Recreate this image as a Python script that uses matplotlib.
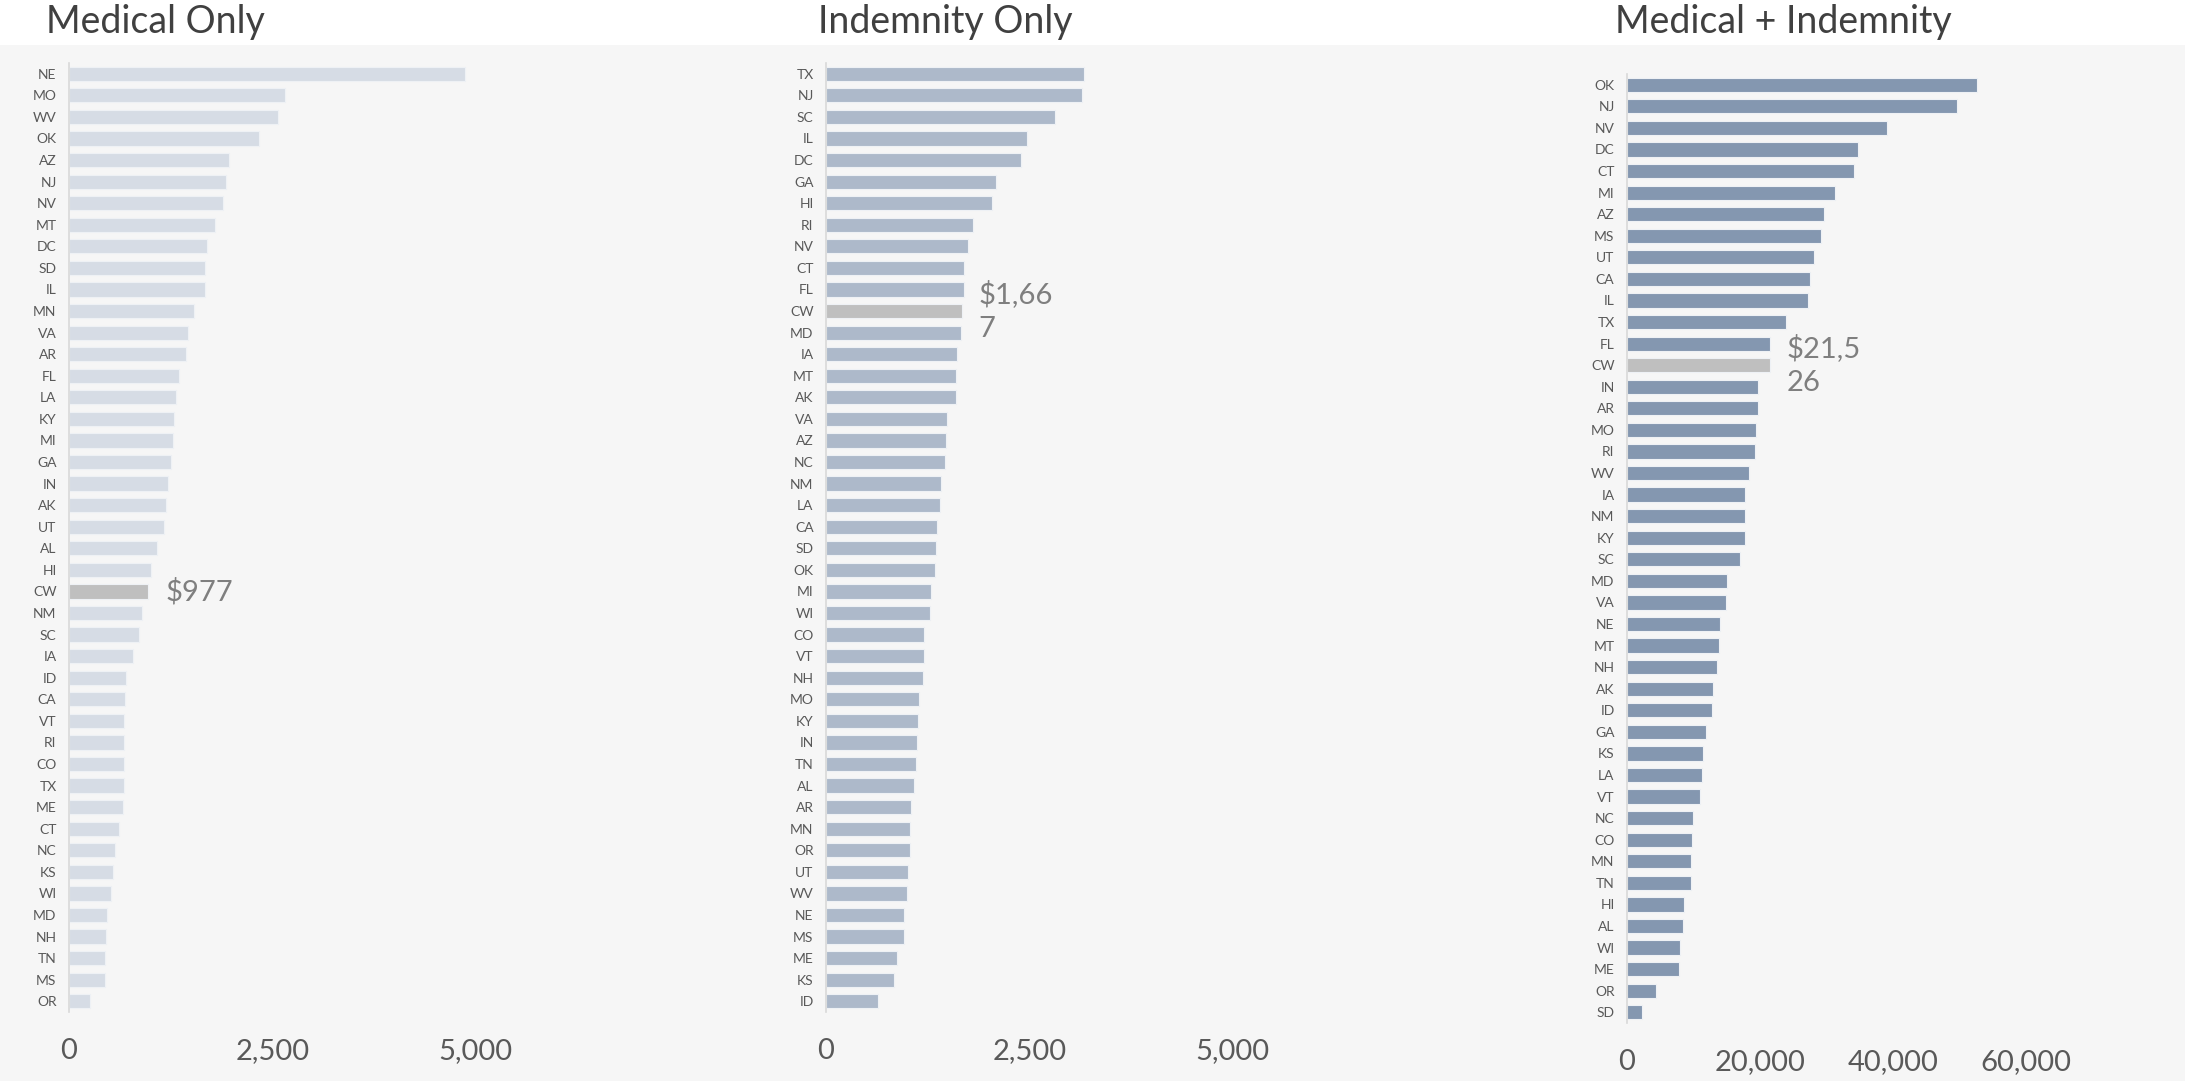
import matplotlib.pyplot as plt
from matplotlib.patches import Rectangle

# Average paid per claim by state, three claim types (CW = countrywide)
med_states = ["NE", "MO", "WV", "OK", "AZ", "NJ", "NV", "MT", "DC", "SD", "IL",
              "MN", "VA", "AR", "FL", "LA", "KY", "MI", "GA", "IN", "AK", "UT",
              "AL", "HI", "CW", "NM", "SC", "IA", "ID", "CA", "VT", "RI", "CO",
              "TX", "ME", "CT", "NC", "KS", "WI", "MD", "NH", "TN", "MS", "OR"]
med_values = [4870, 2651, 2565, 2337, 1965, 1925, 1891, 1793, 1702, 1673, 1673,
              1536, 1467, 1438, 1347, 1313, 1295, 1278, 1250, 1221, 1193, 1170,
              1078, 1009, 977, 901, 855, 786, 695, 683, 678, 678, 678,
              672, 661, 609, 563, 540, 518, 466, 449, 443, 443, 254]

ind_states = ["TX", "NJ", "SC", "IL", "DC", "GA", "HI", "RI", "NV", "CT", "FL",
              "CW", "MD", "IA", "MT", "AK", "VA", "AZ", "NC", "NM", "LA", "CA",
              "SD", "OK", "MI", "WI", "CO", "VT", "NH", "MO", "KY", "IN", "TN",
              "AL", "AR", "MN", "OR", "UT", "WV", "NE", "MS", "ME", "KS", "ID"]
ind_values = [3168, 3151, 2820, 2477, 2403, 2095, 2043, 1803, 1752, 1701, 1701,
              1667, 1655, 1616, 1598, 1598, 1490, 1473, 1461, 1416, 1404, 1370,
              1347, 1336, 1296, 1273, 1204, 1204, 1187, 1147, 1130, 1119, 1102,
              1079, 1050, 1033, 1033, 1010, 999, 959, 953, 868, 839, 645]

both_states = ["OK", "NJ", "NV", "DC", "CT", "MI", "AZ", "MS", "UT", "CA", "IL",
               "TX", "FL", "CW", "IN", "AR", "MO", "RI", "WV", "IA", "NM", "KY",
               "SC", "MD", "VA", "NE", "MT", "NH", "AK", "ID", "GA", "KS", "LA",
               "VT", "NC", "CO", "MN", "TN", "HI", "AL", "WI", "ME", "OR", "SD"]
both_values = [52700, 49600, 39150, 34700, 34200, 31350, 29600, 29100, 28050, 27500, 27250,
               23950, 21560, 21526, 19700, 19650, 19350, 19200, 18400, 17750, 17750, 17700,
               17050, 15100, 14950, 14050, 13900, 13500, 12950, 12800, 11950, 11400, 11350,
               11000, 9950, 9800, 9600, 9600, 8500, 8400, 7900, 7850, 4300, 2230]

W, H = 2185, 1081
fig = plt.figure(figsize=(W / 100, H / 100), dpi=100, facecolor="white")
fig.patches.append(Rectangle((0, 0), 1, 1 - 45 / H, transform=fig.transFigure,
                             facecolor="#f6f6f6", edgecolor="none", zorder=-10))

FONT = ["Lato", "DejaVu Sans"]
TEXT = "#595959"
HIGHLIGHT = "#bfbfbf"

panels = [
    # title, title x, states, values, color, left px, top px, width px, xmax, ticks, label
    ("Medical Only", 155, med_states, med_values, "#d6dce5", 69, 63, 610, 7500,
     [0, 2500, 5000], "$977"),
    ("Indemnity Only", 945, ind_states, ind_values, "#adb9ca", 826, 63, 610, 7500,
     [0, 2500, 5000], "$1,66\n7"),
    ("Medical + Indemnity", 1783, both_states, both_values, "#8497b0", 1627, 74, 532, 80000,
     [0, 20000, 40000, 60000], "$21,5\n26"),
]

for title, tx, states, values, color, left, top, width, xmax, ticks, label in panels:
    n = len(states)
    height = n * 21.57
    ax = fig.add_axes([left / W, 1 - (top + height) / H, width / W, height / H])
    ax.set_facecolor("none")
    y = list(range(n))
    colors = [HIGHLIGHT if s == "CW" else color for s in states]
    ax.barh(y, values, height=0.66, color=colors, edgecolor="#eef1f5", linewidth=0.8, zorder=2)
    ax.set_ylim(n - 0.5, -0.5)
    ax.set_xlim(0, xmax)
    ax.set_yticks(y)
    ax.set_yticklabels(states, fontsize=10, color=TEXT, family=FONT)
    ax.set_xticks(ticks)
    ax.set_xticklabels([f"{t:,}" for t in ticks], fontsize=21, color=TEXT, family=FONT)
    ax.tick_params(axis="y", length=0, pad=9)
    ax.tick_params(axis="x", length=0, pad=19)
    for side in ["top", "right", "bottom"]:
        ax.spines[side].set_visible(False)
    ax.spines["left"].set_color("#d9d9d9")
    ax.spines["left"].set_linewidth(1.2)

    # countrywide value label next to its bar
    cw = states.index("CW")
    ax.annotate(label, xy=(values[cw], cw), xytext=(12, 0), textcoords="offset points",
                fontsize=21, color="#7f7f7f", family=FONT, va="center", ha="left",
                linespacing=1.35)

    fig.text(tx / W, 1 - 33 / H, title, fontsize=27, color="#404040",
             family=FONT, ha="center", va="baseline")

fig.savefig("out.png", dpi=100, facecolor=fig.get_facecolor())
